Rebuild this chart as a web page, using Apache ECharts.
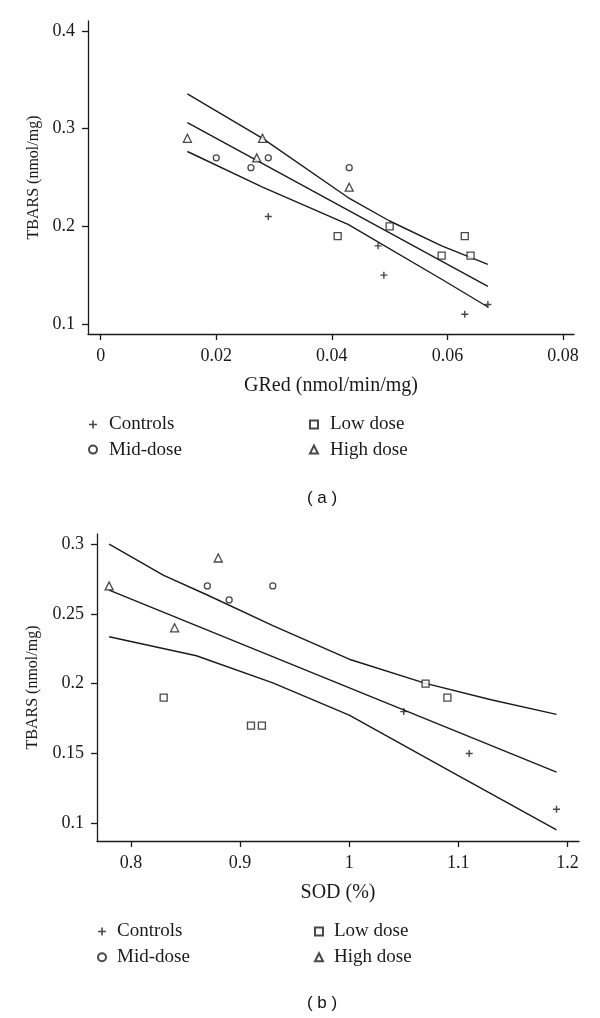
<!DOCTYPE html>
<html>
<head>
<meta charset="utf-8">
<script src="https://cdn.jsdelivr.net/npm/echarts@6/dist/echarts.min.js"></script>
<style>html,body{margin:0;padding:0;background:#fff}#c{width:600px;height:1018px}</style>
</head>
<body>
<div id="c"></div>
<script>
// ---------- Panel (a): TBARS vs GRed ----------
const aControls = [[0.029,0.21],[0.048,0.18],[0.049,0.15],[0.063,0.11],[0.067,0.12]];
const aLow      = [[0.041,0.19],[0.050,0.20],[0.059,0.17],[0.063,0.19],[0.064,0.17]];
const aMid      = [[0.020,0.27],[0.026,0.26],[0.029,0.27],[0.043,0.26]];
const aHigh     = [[0.015,0.29],[0.027,0.27],[0.028,0.29],[0.043,0.24]];
const aFit      = [[0.015,0.306],[0.067,0.1386]];
const aUpper    = [[0.015,0.3355],[0.028,0.290],[0.0428,0.2294],[0.050,0.2054],[0.059,0.180],[0.067,0.161]];
const aLower    = [[0.015,0.2765],[0.028,0.240],[0.0428,0.202],[0.059,0.1458],[0.067,0.1174]];
const aXTicks   = [0,0.02,0.04,0.06,0.08];
const aYTicks   = [0.1,0.2,0.3,0.4];

// ---------- Panel (b): TBARS vs SOD ----------
const bControls = [[1.05,0.18],[1.11,0.15],[1.19,0.11]];
const bLow      = [[0.83,0.19],[0.91,0.17],[0.92,0.17],[1.07,0.20],[1.09,0.19]];
const bMid      = [[0.87,0.27],[0.89,0.26],[0.93,0.27]];
const bHigh     = [[0.78,0.27],[0.84,0.24],[0.88,0.29]];
const bFit      = [[0.78,0.267],[1.19,0.1366]];
const bUpper    = [[0.78,0.300],[0.83,0.2775],[0.87,0.2635],[0.93,0.2415],[1.0,0.2175],[1.07,0.2002],[1.13,0.1885],[1.19,0.178]];
const bLower    = [[0.78,0.2336],[0.86,0.2200],[0.93,0.2005],[1.0,0.1775],[1.09,0.1385],[1.19,0.0952]];
const bXTicks   = [0.8,0.9,1,1.1,1.2];
const bYTicks   = [0.1,0.15,0.2,0.25,0.3];

const groupNames = ['Controls','Low dose','Mid-dose','High dose'];

const SERIF = 'Liberation Serif';
const INK = '#1a1a1a';
const PLUS = 'path://M4,0H6V4H10V6H6V10H4V6H0V4H4Z';

const markerStyle = {
  'Controls':  {symbol: PLUS, symbolSize: 7, itemStyle: {color: INK, borderWidth: 0}},
  'Low dose':  {symbol: 'rect', symbolSize: 7, itemStyle: {color: '#fff', borderColor: INK, borderWidth: 1.3}},
  'Mid-dose':  {symbol: 'circle', symbolSize: 6, itemStyle: {color: '#fff', borderColor: INK, borderWidth: 1.3}},
  'High dose': {symbol: 'triangle', symbolSize: 8, itemStyle: {color: '#fff', borderColor: INK, borderWidth: 1.3}}
};

function scatter(name, data, idx) {
  const m = markerStyle[name];
  return Object.assign({type: 'scatter', name: name, data: data, xAxisIndex: idx, yAxisIndex: idx, z: 3}, m);
}
function line(name, data, idx) {
  return {type: 'line', name: name, data: data, xAxisIndex: idx, yAxisIndex: idx,
    symbol: 'none', smooth: false, silent: true, z: 2,
    lineStyle: {color: INK, width: 1.4, join: 'round'}};
}

function xAxis(idx, min, max, ticks, name) {
  return {type: 'value', gridIndex: idx, min: min, max: max,
    name: name, nameLocation: 'middle', nameGap: 42,
    nameTextStyle: {fontFamily: SERIF, fontSize: 20, color: INK},
    axisLine: {show: true, onZero: false, lineStyle: {color: INK, width: 1.3}},
    axisTick: {show: true, length: 6, customValues: ticks, lineStyle: {color: INK, width: 1.3}},
    axisLabel: {customValues: ticks, margin: 13, fontFamily: SERIF, fontSize: 18, color: INK},
    splitLine: {show: false}};
}
function yAxis(idx, min, max, ticks, gap) {
  return {type: 'value', gridIndex: idx, min: min, max: max,
    name: 'TBARS (nmol/mg)', nameLocation: 'middle', nameGap: gap,
    nameTextStyle: {fontFamily: SERIF, fontSize: 16, color: INK},
    axisLine: {show: true, onZero: false, lineStyle: {color: INK, width: 1.3}},
    axisTick: {show: true, length: 6, customValues: ticks, lineStyle: {color: INK, width: 1.3}},
    axisLabel: {customValues: ticks, margin: 13, fontFamily: SERIF, fontSize: 18, color: INK},
    splitLine: {show: false}};
}
function legend(data, left, top, gap, pad) {
  return {data: data, orient: 'vertical', left: left, top: top,
    itemWidth: 8, itemHeight: 8, itemGap: gap, selectedMode: false,
    textStyle: {fontFamily: SERIF, fontSize: 19, color: INK, padding: [0, 0, 0, pad]}};
}

const series = [];
series.push(line('fitA', aFit, 0), line('upA', aUpper, 0), line('loA', aLower, 0));
series.push(line('fitB', bFit, 1), line('upB', bUpper, 1), line('loB', bLower, 1));
const aGroups = {'Controls': aControls, 'Low dose': aLow, 'Mid-dose': aMid, 'High dose': aHigh};
const bGroups = {'Controls': bControls, 'Low dose': bLow, 'Mid-dose': bMid, 'High dose': bHigh};
groupNames.forEach(n => series.push(scatter(n, aGroups[n], 0)));
groupNames.forEach(n => series.push(scatter(n, bGroups[n], 1)));

const chart = echarts.init(document.getElementById('c'), null, {renderer: 'canvas'});
chart.setOption({
  animation: false,
  backgroundColor: '#fff',
  grid: [
    {left: 88, top: 21, width: 486, height: 313},
    {left: 97, top: 534, width: 482, height: 307}
  ],
  xAxis: [
    xAxis(0, -0.0022, 0.0819, aXTicks, 'GRed (nmol/min/mg)'),
    xAxis(1, 0.7689, 1.2106, bXTicks, 'SOD (%)')
  ],
  yAxis: [
    yAxis(0, 0.0898, 0.410, aYTicks, 46),
    yAxis(1, 0.0873, 0.3072, bYTicks, 56)
  ],
  legend: [
    legend(['Controls','Mid-dose'], 83, 410, 6.1, 7),
    legend(['Low dose','High dose'], 304, 410, 6.1, 7),
    legend(['Controls','Mid-dose'], 92, 917, 6.7, 6),
    legend(['Low dose','High dose'], 309, 917, 6.7, 6)
  ],
  graphic: [
    {type: 'text', x: 322, y: 498, style: {text: '( a )', align: 'center', verticalAlign: 'middle', font: '17px "Liberation Sans"', fill: '#111'}},
    {type: 'text', x: 322, y: 1003, style: {text: '( b )', align: 'center', verticalAlign: 'middle', font: '17px "Liberation Sans"', fill: '#111'}}
  ],
  series: series
});
</script>
</body>
</html>
